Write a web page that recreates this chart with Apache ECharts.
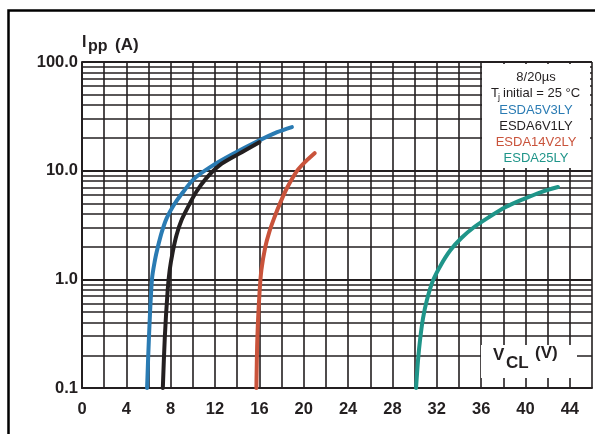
<!DOCTYPE html>
<html><head><meta charset="utf-8">
<script src="https://cdn.jsdelivr.net/npm/echarts@6/dist/echarts.min.js"></script>
<style>html,body{margin:0;padding:0;background:#fff}#c{width:595px;height:434px}</style>
</head><body><div id="c"></div>
<script>
// ---- data ----
const seriesNames = ['ESDA5V3LY', 'ESDA6V1LY', 'ESDA14V2LY', 'ESDA25LY'];
const seriesColors = ['#2a7bb3', '#231f20', '#c9533b', '#1f9589'];
const v5V3 = [5.87, 6.04, 6.31, 6.58, 6.84, 7.2, 7.64, 8.27, 8.98, 10.1, 11.7, 13.6, 15.82, 17.6, 18.93];
const i5V3 = [0.1, 0.294, 1.0, 1.5, 1.98, 2.73, 3.66, 4.8, 6.09, 8.4, 11.0, 14.2, 18.6, 22.6, 25.2];
const v6V1 = [7.29, 7.47, 7.73, 7.91, 8.18, 8.53, 8.98, 9.6, 10.3, 11.2, 12.4, 14.1, 16.0];
const i6V1 = [0.1, 0.294, 0.8, 1.22, 1.78, 2.56, 3.51, 4.72, 6.36, 8.5, 11.2, 14.2, 18.3];
const v14V2 = [15.73, 15.82, 16.0, 16.18, 16.53, 16.89, 17.33, 17.87, 18.49, 19.38, 20.18, 20.98];
const i14V2 = [0.1, 0.294, 0.72, 1.22, 1.98, 2.72, 3.66, 5.03, 6.92, 9.91, 12.2, 14.5];
const v25 = [30.13, 30.31, 30.49, 30.76, 31.11, 31.64, 32.36, 33.24, 34.22, 35.38, 36.71, 38.22, 39.82, 41.42, 42.93];
const i25 = [0.1, 0.181, 0.277, 0.44, 0.645, 0.965, 1.35, 1.86, 2.4, 3.03, 3.74, 4.63, 5.48, 6.36, 7.07];
const xTickLabels = [0, 4, 8, 12, 16, 20, 24, 28, 32, 36, 40, 44];
const yDecades = [0.1, 1, 10, 100];
const legendHeader = '8/20µs';

const allV = [v5V3, v6V1, v14V2, v25];
const allI = [i5V3, i6V1, i14V2, i25];

// minor log gridlines 2..9 per decade
const minorY = [];
for (let d = 0; d < yDecades.length - 1; d++) {
  for (let m = 2; m <= 9; m++) minorY.push({ yAxis: +(yDecades[d] * m).toPrecision(3) });
}

const gridCol = '#231f20';
const txt = '#231f20';
const font = 'Liberation Sans, Arial, sans-serif';

const series = allV.map((vs, k) => ({
  name: seriesNames[k], type: 'line', z: 5,
  data: vs.map((v, j) => [v, allI[k][j]]),
  showSymbol: false, smooth: 0.3,
  lineStyle: { color: seriesColors[k], width: 4, cap: 'round' },
  itemStyle: { color: seriesColors[k] }
}));
series.unshift({
  type: 'line', z: 1, data: [], silent: true, showSymbol: false,
  markLine: {
    silent: true, symbol: ['none', 'none'], label: { show: false },
    lineStyle: { color: gridCol, width: 1.6, type: 'solid' },
    emphasis: { disabled: true },
    animation: false,
    data: minorY
  }
});

const legendTexts = [];
legendTexts.push({ type: 'text', z: 101, x: 536, y: 77,
  style: { text: legendHeader, font: '13px ' + font, fill: txt, align: 'center', verticalAlign: 'middle' } });
legendTexts.push({ type: 'text', z: 101, left: 491, top: 87,
  style: { text: 'T', font: '13px ' + font, fill: txt } });
legendTexts.push({ type: 'text', z: 101, left: 498, top: 93,
  style: { text: 'j', font: '9px ' + font, fill: txt } });
legendTexts.push({ type: 'text', z: 101, left: 503, top: 87,
  style: { text: 'initial = 25 °C', font: '13px ' + font, fill: txt } });
seriesNames.forEach((n, k) => {
  legendTexts.push({ type: 'text', z: 101, x: 536, y: 110 + k * 16.3,
    style: { text: n, font: '13px ' + font, fill: seriesColors[k], align: 'center', verticalAlign: 'middle' } });
});

const chart = echarts.init(document.getElementById('c'), null, { renderer: 'canvas' });
chart.setOption({
  animation: false,
  backgroundColor: '#fff',
  grid: { left: 82, top: 62, right: -4.5, bottom: 46, containLabel: false },
  xAxis: {
    type: 'value', min: 0, max: 46, interval: 2,
    axisLine: { show: true, lineStyle: { color: gridCol, width: 2 } },
    axisTick: { show: false },
    splitLine: { show: true, lineStyle: { color: gridCol, width: 1.6 } },
    axisLabel: {
      margin: 13, color: txt, fontWeight: 'bold', fontSize: 16.5, fontFamily: font,
      formatter: v => (xTickLabels.indexOf(v) >= 0 ? String(v) : '')
    }
  },
  yAxis: {
    type: 'log', logBase: 10, min: 0.1, max: 100,
    axisLine: { show: true, lineStyle: { color: gridCol, width: 2 } },
    axisTick: { show: false },
    splitLine: { show: true, lineStyle: { color: gridCol, width: 2 } },
    axisLabel: {
      margin: 4, color: txt, fontWeight: 'bold', fontSize: 16.5, fontFamily: font,
      formatter: v => Number(v).toFixed(1)
    }
  },
  series: series,
  graphic: [
    { type: 'rect', z: 200, shape: { x: 8.5, y: 10.5, width: 620, height: 460 },
      style: { fill: 'none', stroke: '#000', lineWidth: 2.5 } },
    { type: 'rect', z: 100, shape: { x: 482, y: 64, width: 108, height: 104 },
      style: { fill: '#fff', stroke: 'none' } },
    { type: 'rect', z: 100, shape: { x: 481, y: 345, width: 96, height: 33 },
      style: { fill: '#fff', stroke: 'none' } },
    // axis titles
    { type: 'text', z: 101, left: 82, top: 35, style: { text: 'I', font: 'bold 16px ' + font, fill: txt } },
    { type: 'text', z: 101, left: 88, top: 39, style: { text: 'pp', font: 'bold 16px ' + font, fill: txt } },
    { type: 'text', z: 101, left: 115, top: 37, style: { text: '(A)', font: 'bold 17px ' + font, fill: txt } },
    { type: 'text', z: 101, left: 493, top: 347, style: { text: 'V', font: 'bold 17px ' + font, fill: txt } },
    { type: 'text', z: 101, left: 506, top: 355, style: { text: 'CL', font: 'bold 17px ' + font, fill: txt } },
    { type: 'text', z: 101, left: 535, top: 345, style: { text: '(V)', font: 'bold 17px ' + font, fill: txt } }
  ].concat(legendTexts)
});
</script></body></html>
